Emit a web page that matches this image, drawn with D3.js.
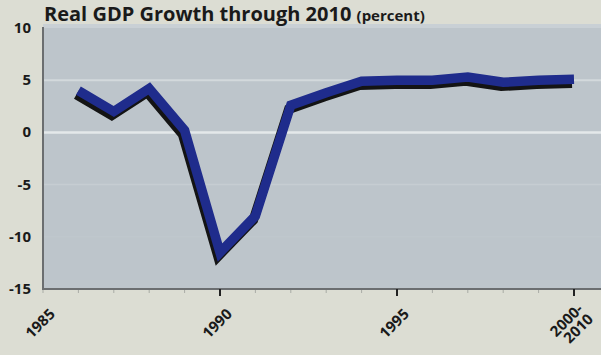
<!DOCTYPE html>
<html>
<head>
<meta charset="utf-8">
<script src="https://cdn.jsdelivr.net/npm/d3@7"></script>
<style>
  html, body { margin: 0; padding: 0; background: #dcddd3; }
  svg { display: block; }
  text { font-family: "Open Sans", "Lato", sans-serif; font-weight: bold; fill: #1a1a1a; }
</style>
</head>
<body>
<svg id="chart" width="601" height="355"></svg>
<script>
const years = [1986, 1987, 1988, 1989, 1990, 1991, 1992, 1993, 1994, 1995, 1996, 1997, 1998, 1999, 2000];
const growth = [4.0, 2.0, 4.2, 0.2, -11.5, -8.0, 2.6, 3.8, 4.9, 5.0, 5.0, 5.3, 4.8, 5.0, 5.1];
const yTicks = [10, 5, 0, -5, -10, -15];
const xTicks = [1985, 1990, 1995, 2000];
const xTickLabels = [["1985"], ["1990"], ["1995"], ["2000-", "2010"]];

const W = 601, H = 355;
const plotLeft = 43, plotTop = 28, plotBottom = 289;

const svg = d3.select("#chart");

const x = d3.scaleLinear().domain([1985, 2000]).range([plotLeft, 574]);
const y = d3.scaleLinear().domain([-15, 10]).range([plotBottom, plotTop]);

// plot background
svg.append("rect")
  .attr("x", plotLeft)
  .attr("y", 24)
  .attr("width", W - plotLeft)
  .attr("height", plotBottom - 24)
  .attr("fill", "#bdc5cb");

svg.append("rect")
  .attr("x", plotLeft)
  .attr("y", 24)
  .attr("width", W - plotLeft)
  .attr("height", 4)
  .attr("fill", "#c9d0d5");

// grid lines
const gridStyle = { 5: ["#d3d9dc", 2], 0: ["#e4e8ea", 2.5], "-5": ["#c6cdd2", 1.5], "-10": ["#c1c8cd", 1] };
svg.append("g")
  .selectAll("line")
  .data([5, 0, -5, -10])
  .join("line")
  .attr("x1", plotLeft)
  .attr("x2", W)
  .attr("y1", d => y(d))
  .attr("y2", d => y(d))
  .attr("stroke", d => gridStyle[d][0])
  .attr("stroke-width", d => gridStyle[d][1]);

// y axis labels
svg.append("g")
  .selectAll("text")
  .data(yTicks)
  .join("text")
  .attr("x", 31)
  .attr("y", d => y(d) + 5)
  .attr("text-anchor", "end")
  .style("font-size", "15px")
  .text(d => d);

// minor x ticks
svg.append("g")
  .selectAll("line")
  .data(d3.range(1985, 2001))
  .join("line")
  .attr("x1", d => x(d))
  .attr("x2", d => x(d))
  .attr("y1", plotBottom)
  .attr("y2", plotBottom + 4)
  .attr("stroke", "#a9aca6")
  .attr("stroke-width", 1);

// axes lines
svg.append("line")
  .attr("x1", plotLeft).attr("x2", plotLeft)
  .attr("y1", 27).attr("y2", plotBottom + 1)
  .attr("stroke", "#6b6e70")
  .attr("stroke-width", 2);

svg.append("line")
  .attr("x1", plotLeft).attr("x2", W)
  .attr("y1", plotBottom).attr("y2", plotBottom)
  .attr("stroke", "#6b6e70")
  .attr("stroke-width", 2);

// major x ticks
svg.append("g")
  .selectAll("line")
  .data(xTicks.slice(1))
  .join("line")
  .attr("x1", d => x(d))
  .attr("x2", d => x(d))
  .attr("y1", plotBottom)
  .attr("y2", plotBottom + 7)
  .attr("stroke", "#222")
  .attr("stroke-width", 2);

// x labels, rotated
const xl = svg.append("g")
  .selectAll("text")
  .data(xTicks)
  .join("text")
  .attr("transform", (d, i) => `translate(${x(d) + (i === 3 ? 10 : 13)},${plotBottom + (i === 3 ? 21 : 26)}) rotate(-45)`)
  .attr("text-anchor", "end")
  .style("font-size", "15px");

xl.selectAll("tspan")
  .data((d, i) => xTickLabels[i].map((t, j) => ({ t, j })))
  .join("tspan")
  .attr("x", 0)
  .attr("dy", d => d.j === 0 ? 0 : "0.95em")
  .text(d => d.t);

// data line with shadow
const line = d3.line()
  .x((d, i) => x(years[i]))
  .y(d => y(d));

svg.append("path")
  .datum(growth)
  .attr("d", line)
  .attr("transform", "translate(-2,4)")
  .attr("fill", "none")
  .attr("stroke", "#141414")
  .attr("stroke-width", 9.5)
  .attr("stroke-linejoin", "miter");

svg.append("path")
  .datum(growth)
  .attr("d", line)
  .attr("fill", "none")
  .attr("stroke", "#1f2c8c")
  .attr("stroke-width", 9.5)
  .attr("stroke-linejoin", "miter");

// title
const title = svg.append("text")
  .attr("x", 44)
  .attr("y", 21)
  .style("font-size", "20px");

title.append("tspan").text("Real GDP Growth through 2010 ");
title.append("tspan").style("font-size", "15px").text("(percent)");
</script>
</body>
</html>
